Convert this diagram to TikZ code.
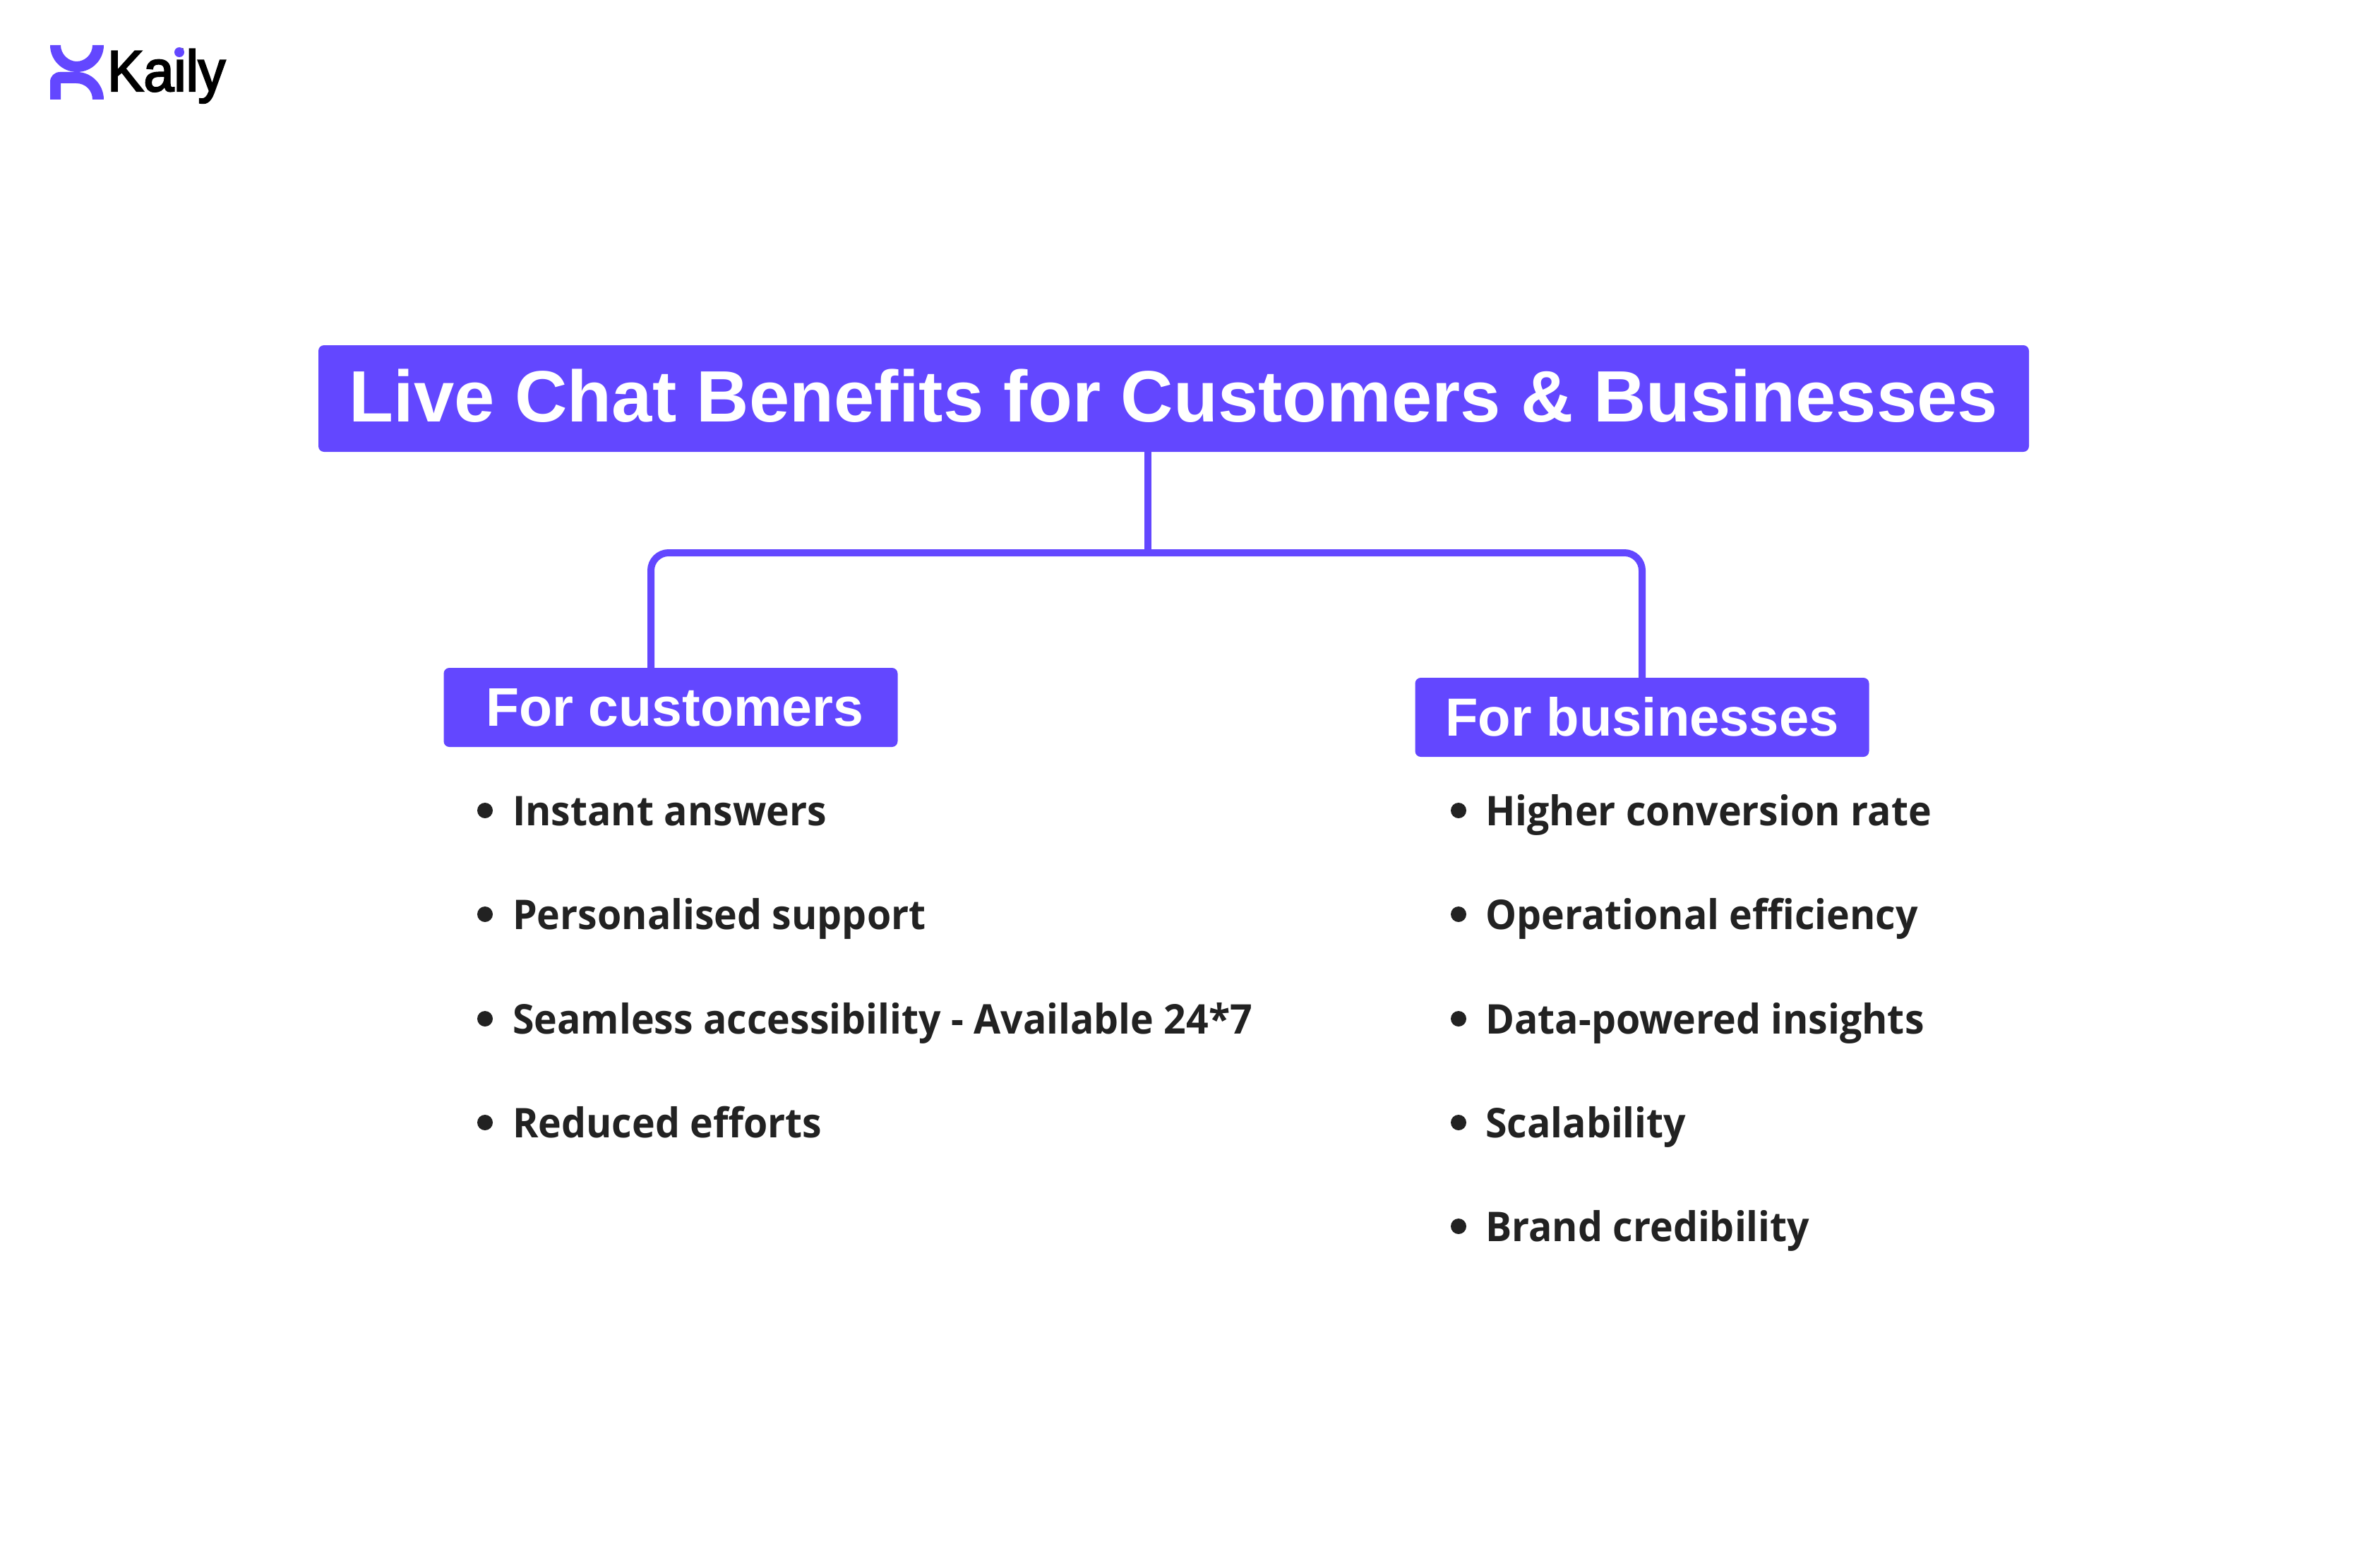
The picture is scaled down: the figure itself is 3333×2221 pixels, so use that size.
\documentclass[tikz,border=0pt]{standalone}
\usepackage{fontspec}
\setmainfont{Liberation Sans}
\newfontfamily\headfont{Liberation Sans}
\newfontfamily\itemfont[FakeStretch=0.955]{Open Sans}
\newfontfamily\brandfont[FakeBold=3,FakeStretch=0.94]{Liberation Sans}
\definecolor{brand}{HTML}{6347FF}
\definecolor{ink}{HTML}{222222}
\tikzset{
  x=1pt,y=-1pt,
  box/.style={fill=brand,rounded corners=8pt,inner sep=0pt,text=white,font=\headfont\bfseries},
  link/.style={draw=brand,line width=10pt,rounded corners=25pt},
  itemtext/.style={anchor=base west,inner sep=0pt,text=ink,font=\itemfont\bfseries\fontsize{58}{70}\selectfont},
  dot/.style={circle,fill=ink,inner sep=0pt,minimum size=22pt}
}
\begin{document}
\begin{tikzpicture}
\useasboundingbox (0,0) rectangle (3333,2221);
% logo
\fill[brand] (71,64) -- (86,64) .. controls (86,76.4) and (96.6,87) .. (108.5,87) .. controls (121,87) and (131,76.4) .. (131,64) -- (147,64)
  .. controls (147,85) and (130,102) .. (109,102) .. controls (88,102) and (71,85) .. (71,64) -- cycle;
\fill[brand] (71,141) -- (71,116) .. controls (71,108) and (77,102) .. (85,102) -- (109,102)
  .. controls (130,102) and (147,120) .. (147,141) -- (131,141) .. controls (131,128) and (121,118) .. (108,118) -- (86,118) -- (86,141) -- cycle;
\node[anchor=base west,inner sep=0pt,font=\brandfont\fontsize{82}{100}\selectfont] (brandname) at (152,129) {Kaily};
\fill[brand] (254,74) circle[radius=7];
% boxes
\node[box,minimum width=2423pt,minimum height=151pt,text height=65pt,text depth=0pt,font=\headfont\bfseries\fontsize{103}{125}\selectfont] (title) at (1662.5,564.5) {Live Chat Benefits for Customers \& Businesses};
\node[box,minimum width=643pt,minimum height=112pt,text height=52pt,text depth=0pt,font=\headfont\bfseries\fontsize{77}{90}\selectfont] (cust) at (950,1002) {\hspace{12pt}For customers};
\node[box,minimum width=643pt,minimum height=112pt,text height=52pt,text depth=0pt,font=\headfont\bfseries\fontsize{76}{90}\selectfont] (biz) at (2326,1016) {For businesses};
% connectors
\coordinate (hub) at (1626,783);
\coordinate (custtop) at (922,783);
\coordinate (biztop) at (2326,783);
\draw[link] (title.south -| hub) -- (hub);
\draw[link] (cust.north -| custtop) -- (custtop) -- (biztop) -- (biz.north);
% lists
\foreach \n/\y/\t in {a/1148/Instant answers,b/1295/Personalised support,c/1443/Seamless accessibility - Available 24*7,d/1590/Reduced efforts}{
  \node[dot] (cdot\n) at (687,\y) {};
  \node[itemtext] (ctext\n) at (726,\y+21) {\t};
}
\foreach \n/\y/\t in {a/1148/Higher conversion rate,b/1295/Operational efficiency,c/1443/Data-powered insights,d/1590/Scalability,e/1737/Brand credibility}{
  \node[dot] (bdot\n) at (2066,\y) {};
  \node[itemtext] (btext\n) at (2104,\y+21) {\t};
}
\end{tikzpicture}
\end{document}
